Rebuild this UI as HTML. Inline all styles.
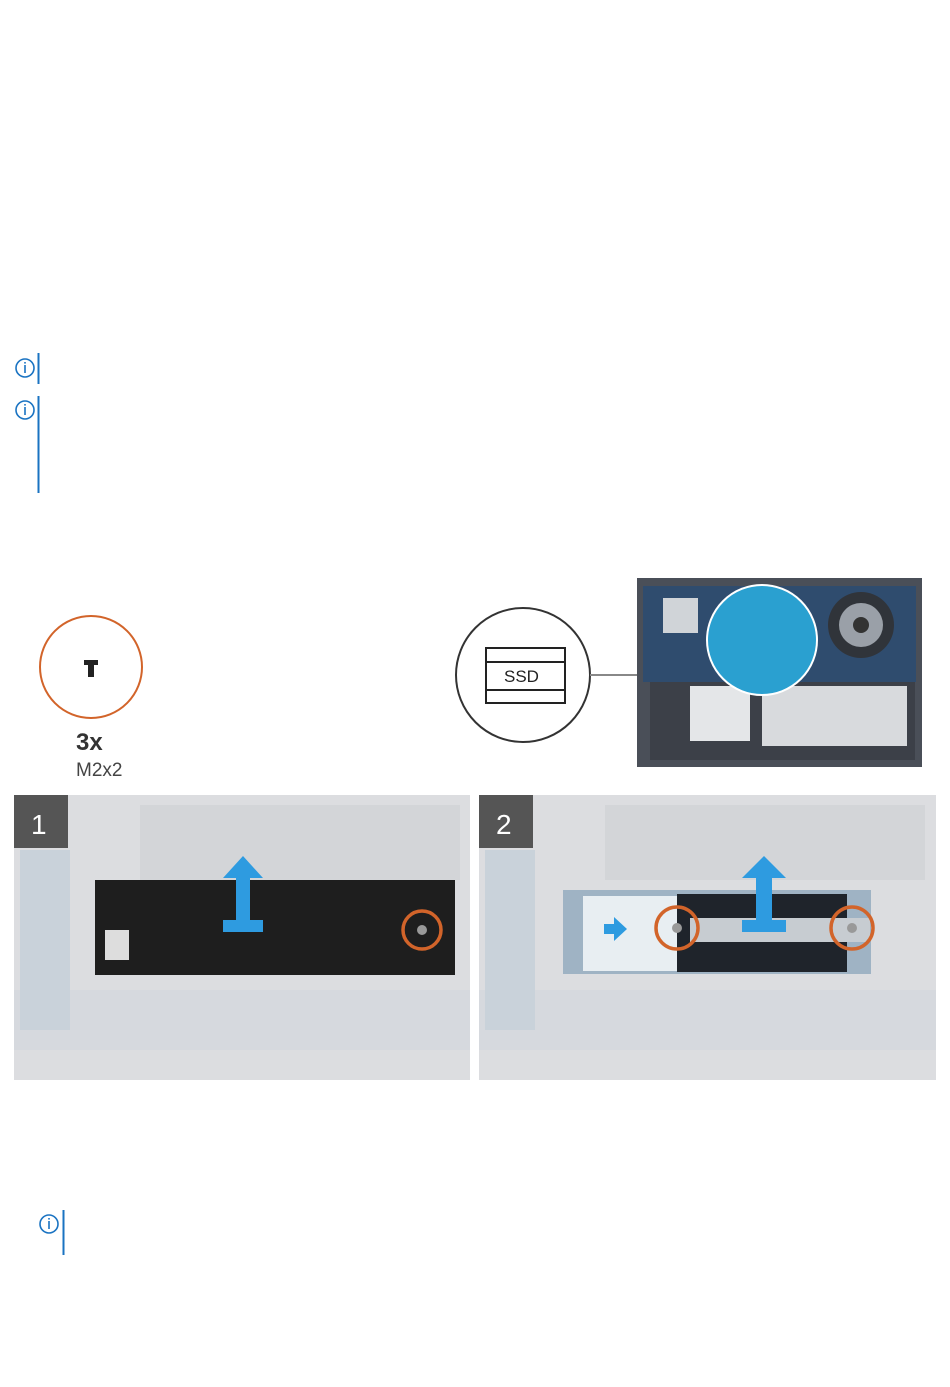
<!DOCTYPE html>
<html><head><meta charset="utf-8"><style>
html,body{margin:0;padding:0;background:#fff;}
body{width:950px;height:1387px;position:relative;overflow:hidden;font-family:"Liberation Sans",sans-serif;}
</style></head><body>
<svg width="950" height="1387" viewBox="0 0 950 1387" xmlns="http://www.w3.org/2000/svg" style="position:absolute;left:0;top:0">
<!-- info notes -->
<g fill="none" stroke="#1a73c2" stroke-width="1.6">
<circle cx="25" cy="368" r="9"/><circle cx="25" cy="410" r="9"/><circle cx="49" cy="1224" r="9"/>
</g>
<g fill="#1a73c2">
<rect x="24.2" y="365" width="1.6" height="8"/><rect x="24.2" y="362" width="1.6" height="1.6"/>
<rect x="24.2" y="407" width="1.6" height="8"/><rect x="24.2" y="404" width="1.6" height="1.6"/>
<rect x="48.2" y="1221" width="1.6" height="8"/><rect x="48.2" y="1218" width="1.6" height="1.6"/>
<rect x="37.5" y="353" width="2" height="31"/>
<rect x="37.5" y="396" width="2" height="97"/>
<rect x="62.5" y="1210" width="2" height="45"/>
</g>
<!-- screw -->
<circle cx="91" cy="667" r="51" fill="#fff" stroke="#d2642a" stroke-width="2"/>
<path d="M84 660 h14 v5 h-4 v12 h-6 v-12 h-4z" fill="#222"/>
<text x="76" y="750" font-size="24" font-weight="bold" fill="#333">3x</text>
<text x="76" y="776" font-size="19" fill="#444">M2x2</text>
<!-- ssd callout -->
<circle cx="523" cy="675" r="67" fill="#fff" stroke="#333" stroke-width="2"/>
<line x1="590" y1="675" x2="718" y2="675" stroke="#888" stroke-width="2"/>
<rect x="486" y="648" width="79" height="55" fill="#fff" stroke="#222" stroke-width="2"/>
<line x1="486" y1="662" x2="565" y2="662" stroke="#222" stroke-width="2"/>
<line x1="486" y1="690" x2="565" y2="690" stroke="#222" stroke-width="2"/>
<text x="504" y="682" font-size="17" fill="#222">SSD</text>
<!-- laptop -->
<rect x="637" y="578" width="285" height="189" fill="#4a4f58"/>
<rect x="643" y="586" width="273" height="96" fill="#2f4c6e"/>
<rect x="650" y="682" width="265" height="78" fill="#3c4048"/>
<rect x="690" y="686" width="60" height="55" fill="#e4e6e8"/>
<rect x="762" y="686" width="145" height="60" fill="#d8dadd"/>
<circle cx="861" cy="625" r="33" fill="#30343a"/><circle cx="861" cy="625" r="22" fill="#9aa0a8"/><circle cx="861" cy="625" r="8" fill="#333"/>
<circle cx="762" cy="640" r="55" fill="#2aa0d0" stroke="#fff" stroke-width="2"/>
<rect x="663" y="598" width="35" height="35" fill="#d0d4d8"/>
<!-- panel 1 -->
<rect x="14" y="795" width="456" height="285" fill="#dcdde0"/>
<rect x="140" y="805" width="320" height="75" fill="#d3d5d8"/>
<rect x="14" y="990" width="456" height="60" fill="#d6d9de"/>
<rect x="20" y="850" width="50" height="180" fill="#c9d2da"/>
<rect x="14" y="795" width="54" height="53" fill="#555"/>
<text x="31" y="834" font-size="28" fill="#fff">1</text>
<rect x="95" y="880" width="360" height="95" fill="#1e1e1e"/>
<rect x="105" y="930" width="24" height="30" fill="#ddd"/>
<circle cx="422" cy="930" r="19" fill="none" stroke="#d2642a" stroke-width="3.5"/>
<circle cx="422" cy="930" r="5" fill="#999"/>
<path d="M243 856 l-20 22 h13 v42 h-13 v12 h40 v-12 h-13 v-42 h13z" fill="#2e9be0"/>
<!-- panel 2 -->
<rect x="479" y="795" width="457" height="285" fill="#dcdde0"/>
<rect x="605" y="805" width="320" height="75" fill="#d3d5d8"/>
<rect x="479" y="990" width="457" height="60" fill="#d6d9de"/>
<rect x="485" y="850" width="50" height="180" fill="#c9d2da"/>
<rect x="479" y="795" width="54" height="53" fill="#555"/>
<text x="496" y="834" font-size="28" fill="#fff">2</text>
<rect x="563" y="890" width="308" height="84" fill="#9fb3c4"/>
<rect x="583" y="896" width="94" height="75" fill="#e8eef2"/>
<rect x="677" y="894" width="170" height="78" fill="#1f242b"/>
<rect x="690" y="918" width="180" height="24" fill="#c7ccd1"/>
<circle cx="677" cy="928" r="21" fill="none" stroke="#d2642a" stroke-width="3.5"/>
<circle cx="852" cy="928" r="21" fill="none" stroke="#d2642a" stroke-width="3.5"/>
<circle cx="677" cy="928" r="5" fill="#999"/><circle cx="852" cy="928" r="5" fill="#999"/>
<path d="M604 924 h10 v-7 l13 12 l-13 12 v-7 h-10z" fill="#2e9be0"/>
<path d="M764 856 l-22 22 h14 v42 h-14 v12 h44 v-12 h-14 v-42 h14z" fill="#2e9be0"/>
</svg>
</body></html>
